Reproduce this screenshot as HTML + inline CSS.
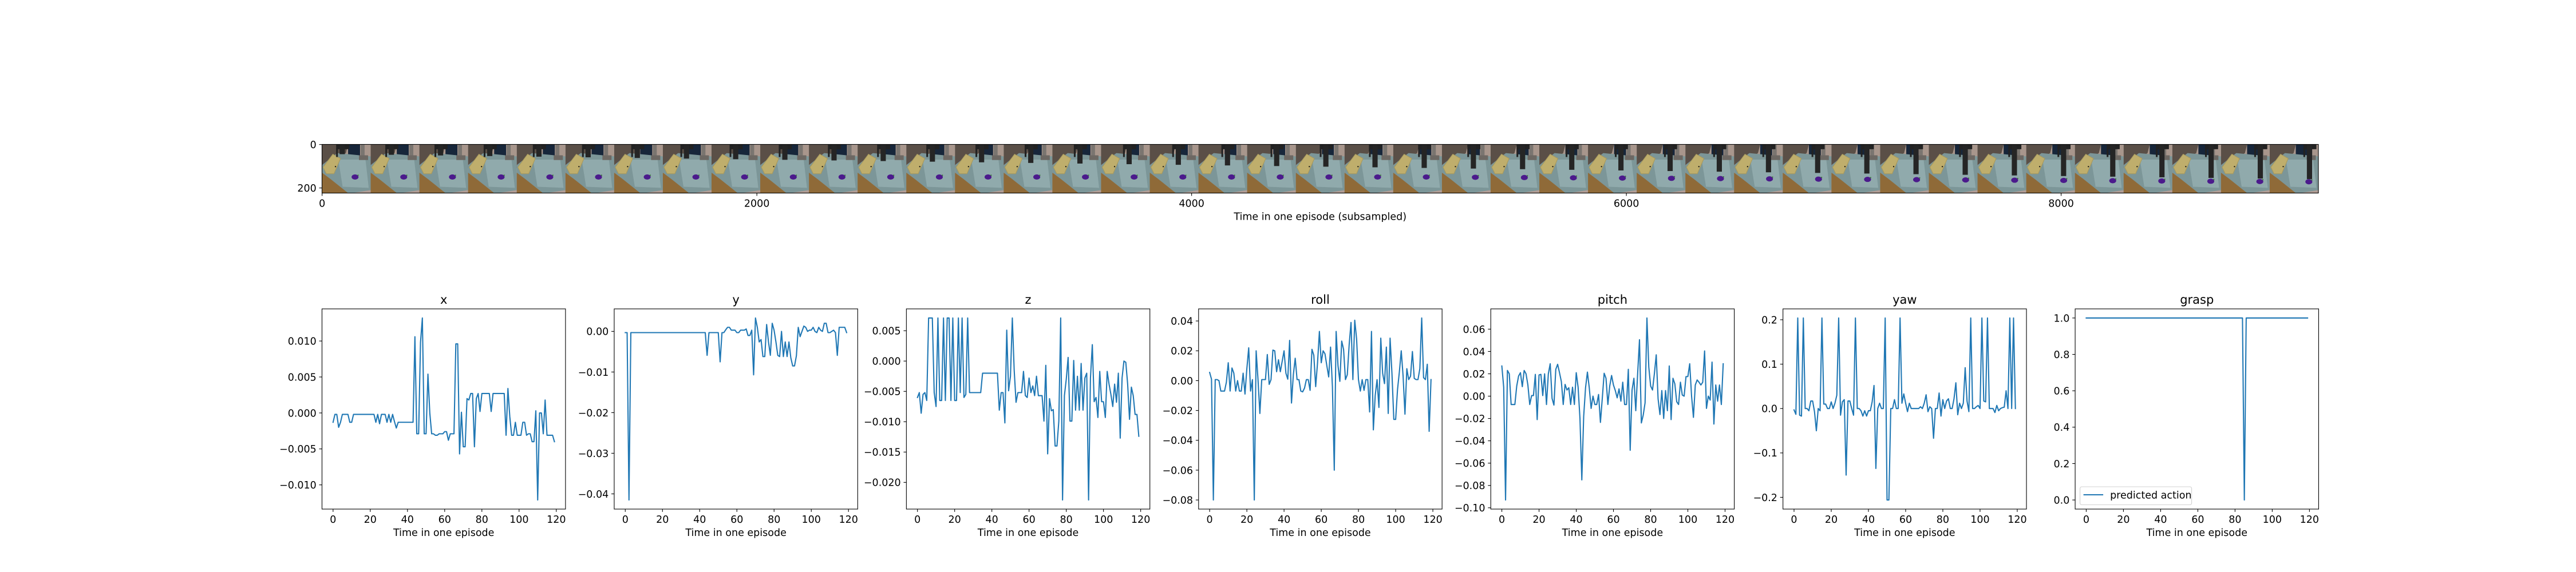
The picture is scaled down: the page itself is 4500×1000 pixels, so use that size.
<!DOCTYPE html>
<html><head><meta charset="utf-8"><title>Episode actions</title>
<style>
html,body{margin:0;padding:0;background:#fff;}
svg{display:block;font-family:"DejaVu Sans","Liberation Sans",sans-serif;}
</style></head>
<body>
<svg id="fig" width="4500" height="1000" viewBox="0 0 4500 1000" xmlns="http://www.w3.org/2000/svg">
<rect width="4500" height="1000" fill="#fff"/>
</svg>
<script>
// ---------- data ----------
const steps = Array.from({length:120},(_,i)=>i);
const xVals = [-1.3,-0.2,-0.2,-2.0,-1.3,-0.2,-0.2,-0.2,-0.2,-1.3,-1.3,-0.2,-0.2,-0.2,-0.2,-0.2,-0.2,-0.2,-0.2,-0.2,-0.2,-0.2,-0.2,-1.3,-0.2,-1.5,-0.2,-0.2,-0.2,-1.3,-0.2,-1.3,-0.2,-1.2,-2.1,-1.3,-1.3,-1.3,-1.3,-1.3,-1.3,-1.3,-1.3,-1.3,10.6,-2.9,-2.9,9.8,13.2,-2.9,-2.9,5.4,0.0,-2.9,-2.9,-3.1,-3.1,-2.9,-2.9,-2.9,-2.6,-2.6,-3.8,-2.9,-2.9,-2.9,9.6,9.6,-5.7,0.1,-4.7,-4.7,2.0,1.8,2.7,2.7,-4.7,2.0,2.7,0.2,2.7,2.7,2.7,2.7,2.7,0.2,2.7,2.7,2.7,2.7,2.7,2.7,2.7,-3.1,3.4,-0.5,-3.1,-3.1,-1.3,-3.1,-3.1,-3.1,-1.3,-1.3,-3.1,-2.9,-2.9,-4.0,-4.0,0.3,-12.1,0.0,0.0,-2.9,1.8,-3.1,-3.1,-3.1,-3.1,-4.0];
const yVals = [-0.3,-0.3,-41.5,-0.3,-0.3,-0.3,-0.3,-0.3,-0.3,-0.3,-0.3,-0.3,-0.3,-0.3,-0.3,-0.3,-0.3,-0.3,-0.3,-0.3,-0.3,-0.3,-0.3,-0.3,-0.3,-0.3,-0.3,-0.3,-0.3,-0.3,-0.3,-0.3,-0.3,-0.3,-0.3,-0.3,-0.3,-0.3,-0.3,-0.3,-0.3,-0.3,-0.3,-0.3,-5.9,-0.3,-0.3,-0.3,-0.3,-0.3,-0.3,-7.5,-0.3,-0.3,0.4,1.0,1.0,0.3,0.3,0.3,-0.3,-0.3,0.3,0.3,0.3,0.6,-1.0,-1.0,0.3,-10.7,3.3,1.0,-2.6,-2.0,-6.2,-6.2,1.7,-2.6,-5.9,2.0,0.3,-2.6,-5.9,-6.2,0.0,-6.2,-2.6,-6.2,-2.6,-6.5,-8.5,-8.5,-6.0,1.0,-1.3,0.0,1.3,1.0,0.0,0.3,0.3,1.0,0.0,-0.3,1.0,0.3,0.0,2.0,2.0,-0.3,-0.3,0.0,0.3,-0.3,-5.9,1.0,1.0,1.0,1.0,-0.3];
const zVals = [-6.0,-5.2,-8.6,-5.5,-5.2,-6.5,7.1,7.1,7.1,-5.2,-7.5,7.1,-6.5,-6.5,7.1,-6.5,7.1,7.1,-6.5,7.1,-6.5,-6.5,7.1,-5.2,7.1,-6.0,-5.5,7.1,-5.2,-5.2,-5.2,-5.2,-5.2,-5.2,-5.2,-2.0,-2.0,-2.0,-2.0,-2.0,-2.0,-2.0,-2.0,-2.0,-8.1,-5.2,-5.2,-10.2,5.1,-4.9,-2.5,7.1,-1.5,-6.8,-5.2,-5.2,-5.2,-1.7,-5.7,-6.0,-2.8,-5.2,-4.1,-5.7,-2.5,-5.7,-5.7,-5.7,-9.9,-0.7,-15.3,-6.2,-8.2,-8.0,-14.0,-14.0,-9.9,7.1,-22.9,-5.7,-3.0,0.6,-9.9,-9.9,0.1,-8.1,-2.5,-8.1,-0.4,-8.1,-2.8,-2.0,-22.9,-2.8,2.7,-6.7,-6.0,-9.3,-1.7,-6.7,-6.7,-9.3,-1.7,-3.8,-5.5,-7.5,-3.8,-6.8,-2.0,-12.7,-2.8,0.0,-0.2,-3.8,-9.6,-4.3,-5.7,-8.8,-8.8,-12.4];
const rollVals = [0.55,0.1,-8.0,0.07,0.07,0.0,-0.7,-0.7,-0.7,-0.1,1.2,-0.7,0.85,0.5,-0.7,0.0,-0.7,-0.7,0.5,-0.9,0.8,2.2,-0.7,0.07,-8.0,2.0,0.07,-2.2,0.07,0.07,0.07,1.75,-0.25,0.07,2.05,2.0,0.6,1.4,0.6,1.3,2.0,0.5,0.1,2.7,-1.5,0.4,1.5,0.07,0.07,-0.7,-0.75,-0.5,0.07,0.07,-0.65,2.1,1.7,-0.4,1.2,3.3,1.2,2.0,1.8,1.0,0.25,2.25,-0.4,-6.0,3.3,1.0,-0.05,2.65,2.1,0.07,0.4,2.4,3.9,0.07,4.05,2.8,0.07,-0.7,0.07,-0.65,0.07,0.07,-2.1,3.3,-3.3,-1.0,0.07,-1.8,2.85,0.5,-0.2,2.25,-2.2,2.85,0.5,-2.6,-2.6,-0.6,0.6,2.0,0.3,-2.25,0.8,0.07,0.3,1.95,0.15,0.07,0.07,0.8,4.2,0.2,0.07,1.1,-3.4,0.07];
const pitchVals = [2.7,0.8,-9.3,2.3,2.0,-0.75,-0.75,-0.75,0.9,1.8,2.1,0.85,2.3,2.0,1.0,-0.75,0.05,0.05,1.95,-2.1,1.9,1.95,0.05,2.0,-0.75,2.0,2.9,-0.2,-0.8,2.4,2.85,2.1,1.3,-0.75,1.05,0.55,0.75,-0.75,0.8,-0.75,2.1,0.8,-2.0,-7.5,-1.8,0.75,2.15,0.75,-1.1,0.0,-0.75,-0.75,0.15,-2.35,-0.2,2.05,1.6,-0.75,0.9,1.85,1.0,0.5,-0.15,0.65,-0.45,1.25,-0.75,-0.75,2.4,-4.85,0.55,1.6,-1.3,2.0,5.05,-2.4,-1.7,-0.6,7.0,2.6,0.9,0.55,2.0,3.7,-0.25,-1.65,0.5,-2.0,0.5,-1.3,2.7,-2.1,1.6,1.1,-0.5,-0.75,1.25,0.1,0.0,1.75,1.75,2.9,0.0,-1.9,1.0,1.45,1.25,1.0,1.25,4.05,-1.1,0.0,-0.35,3.05,-2.5,1.0,-0.45,1.0,-0.75,2.9];
const yawVals = [-0.3,-1.3,20.4,-1.5,-1.7,20.4,0,0,-0.5,1.7,1.7,-0.7,-5.0,0,-0.5,20.4,1.0,1.0,0,0,1.5,0,1.2,3.0,20.4,-1.5,1.5,2.0,-15.0,1.7,1.7,0,-1.5,20.4,0,0,-0.5,-1.7,-0.5,-1.7,-0.5,-0.5,1.5,5.2,-13.5,0,1.2,0,0,20.4,-20.6,-20.6,0,0,2.0,0,0,20.4,1.2,3.3,1.2,-0.7,1.2,0,0,0,0,0,0.4,0,1.2,3.1,-0.7,0.4,0,-6.7,0,0,3.5,-1.7,2.0,0,1.7,2.2,0,0,2.2,5.8,-1.4,1.2,0,1.2,9.2,1.7,-0.7,20.4,0,0,0.4,0.7,0,20.4,1.7,1.5,20.4,0,0,0,-0.9,0.7,-0.5,0,0.2,0.3,4.0,0,20.4,0,20.4,0];
const graspVals = steps.map(t => t===85 ? 0 : 1);
const panelTitles = ["x","y","z","roll","pitch","yaw","grasp"];
const xTickVals = [0,20,40,60,80,100,120];
const xTickLabels = ["0","20","40","60","80","100","120"];
const yTickVals = [
  [-0.010,-0.005,0,0.005,0.010],
  [-0.04,-0.03,-0.02,-0.01,0],
  [-0.020,-0.015,-0.010,-0.005,0,0.005],
  [-0.08,-0.06,-0.04,-0.02,0,0.02,0.04],
  [-0.10,-0.08,-0.06,-0.04,-0.02,0,0.02,0.04,0.06],
  [-0.2,-0.1,0,0.1,0.2],
  [0,0.2,0.4,0.6,0.8,1.0]
];
const yTickLabels = [
  ["−0.010","−0.005","0.000","0.005","0.010"],
  ["−0.04","−0.03","−0.02","−0.01","0.00"],
  ["−0.020","−0.015","−0.010","−0.005","0.000","0.005"],
  ["−0.08","−0.06","−0.04","−0.02","0.00","0.02","0.04"],
  ["−0.10","−0.08","−0.06","−0.04","−0.02","0.00","0.02","0.04","0.06"],
  ["−0.2","−0.1","0.0","0.1","0.2"],
  ["0.0","0.2","0.4","0.6","0.8","1.0"]
];
const seriesScale = [0.001,0.001,0.001,0.01,0.01,0.01,1];
const stripXTickVals = [0,2000,4000,6000,8000];
const stripXTickLabels = ["0","2000","4000","6000","8000"];
const stripYTickVals = [0,200];
const stripYTickLabels = ["0","200"];
const frameCount = 41;
const frameSize = 224;

// ---------- helpers ----------
const NS = "http://www.w3.org/2000/svg";
const fig = document.getElementById("fig");
function mk(tag, attrs, parent){
  const e = document.createElementNS(NS, tag);
  for (const k in attrs) e.setAttribute(k, attrs[k]);
  (parent||fig).appendChild(e);
  return e;
}
const BLUE = "#1f77b4";
const FS = 17.5;

// ---------- image strip ----------
const SL = 562.5, SR = 4050, SW = SR-SL;
const totalUnits = frameCount*frameSize;
const k = SW/totalUnits;
const ST = 295 - frameSize*k/2, SB = 295 + frameSize*k/2;
function sx(u){ return SL + (u+0.5)*k; }
function sy(u){ return ST + (u+0.5)*k; }

const strip = mk("g", {});


const clip = mk("clipPath", {id:"stripclip"}, strip);
mk("rect", {x:SL, y:ST, width:SW, height:SB-ST}, clip);
const frames = mk("g", {"clip-path":"url(#stripclip)"}, strip);
for (let i=0;i<frameCount;i++){
  const p = i/(frameCount-1);
  const g = mk("g", {transform:`translate(${SL+i*frameSize*k},${ST}) scale(${k})`}, frames);
  
  
  mk("rect",{x:0,y:0,width:224,height:224,fill:"#a8968c"},g);
  mk("polygon",{points:"0,0 120,0 110,40 0,110",fill:"#5a4f47"},g);
  mk("rect",{x:120,y:0,width:55,height:55,fill:"#17263a"},g);
  mk("polygon",{points:"0,95 70,40 224,55 224,224 0,224",fill:"#7c9698"},g);
  mk("polygon",{points:"75,70 200,70 215,200 95,195",fill:"#90aaac"},g);
  mk("polygon",{points:"0,130 0,224 120,224 40,160",fill:"#8f6a38"},g);
  mk("polygon",{points:"140,224 224,210 224,224",fill:"#b09c94"},g);
  mk("polygon",{points:"5,105 50,45 85,65 55,135 20,135",fill:"#bfae6c",stroke:"#a89a5e","stroke-width":3},g);
  mk("rect",{x:178,y:0,width:18,height:55,fill:"#7a7570"},g);
  mk("polygon",{points:"170,50 212,50 212,72 170,72",fill:"#6d6863"},g);
  const gx = 95 + p*90, gl = 45 + p*115;
  mk("rect",{x:gx-30,y:0,width:60,height:22,fill:"#222"},g);
  mk("rect",{x:gx-14,y:0,width:24,height:gl,fill:"#252525"},g);
  mk("rect",{x:gx-30,y:18,width:8,height:40,fill:"#222"},g);
  const ex = p<0.55 ? 152 : 152 + (p-0.55)/0.45*28, ey = p<0.55 ? 150 : 150 + (p-0.55)/0.45*22;
  mk("ellipse",{cx:ex,cy:ey,rx:16,ry:12,fill:"#4b1a8c"},g);
  mk("circle",{cx:ex+14,cy:ey-8,r:3,fill:"#3a7a3a"},g);
  mk("circle",{cx:62,cy:102,r:3,fill:"#111"},g);
}
mk("rect",{x:SL,y:ST,width:SW,height:SB-ST,fill:"none",stroke:"#000","stroke-width":1.1},strip);
stripXTickVals.forEach((v,j)=>{
  const x = sx(v);
  const t = mk("line",{x1:x,x2:x,y1:SB,y2:SB+4.9,stroke:"#000","stroke-width":1.1},strip);
  
  
  const l = mk("text",{x:x,y:SB+24,"font-size":FS,"text-anchor":"middle",fill:"#000"},strip);
  
  
  l.textContent = stripXTickLabels[j];
});
stripYTickVals.forEach((v,j)=>{
  const y = sy(v);
  mk("line",{x1:SL-4.9,x2:SL,y1:y,y2:y,stroke:"#000","stroke-width":1.1},strip);
  const l = mk("text",{x:SL-9.7,y:y+6.4,"font-size":FS,"text-anchor":"end",fill:"#000"},strip);
  
  
  l.textContent = stripYTickLabels[j];
});
const sxl = mk("text",{x:(SL+SR)/2,y:SB+47,"font-size":FS,"text-anchor":"middle",fill:"#000"},strip);


sxl.textContent = "Time in one episode (subsampled)";

// ---------- panels ----------
const allSeries = [xVals,yVals,zVals,rollVals,pitchVals,yawVals,graspVals];
const AW = 425.36, GAP = 85.07, AT = 540, AB = 890;
allSeries.forEach((vals, pi)=>{
  const L = 562.5 + pi*(AW+GAP), R = L+AW;
  const data = vals.map(v=>v*seriesScale[pi]);
  const n = steps.length;
  const xmin = steps[0], xmax = steps[n-1];
  const xlo = xmin-(xmax-xmin)*0.05, xhi = xmax+(xmax-xmin)*0.05;
  const dmin = Math.min(...data), dmax = Math.max(...data);
  const ylo = dmin-(dmax-dmin)*0.05, yhi = dmax+(dmax-dmin)*0.05;
  const X = v => L + (v-xlo)/(xhi-xlo)*AW;
  const Y = v => AB - (v-ylo)/(yhi-ylo)*(AB-AT);
  const g = mk("g",{});
  
  
  const title = mk("text",{x:(L+R)/2,y:AT-9,"font-size":21,"text-anchor":"middle",fill:"#000"},g);
  
  
  title.textContent = panelTitles[pi];
  const cid = "clip"+pi;
  const cp = mk("clipPath",{id:cid},g);
  mk("rect",{x:L,y:AT,width:AW,height:AB-AT},cp);
  const pts = data.map((v,i)=>X(steps[i]).toFixed(2)+","+Y(v).toFixed(2)).join(" ");
  const line = mk("polyline",{points:pts,fill:"none",stroke:BLUE,"stroke-width":2.08,"stroke-linejoin":"round","stroke-linecap":"square","clip-path":`url(#${cid})`},g);
  
  
  const frame = mk("rect",{x:L,y:AT,width:AW,height:AB-AT,fill:"none",stroke:"#000","stroke-width":1.1},g);
  
  
  xTickVals.forEach((v,j)=>{
    const x = X(v);
    mk("line",{x1:x,x2:x,y1:AB,y2:AB+4.9,stroke:"#000","stroke-width":1.1},g);
    const t = mk("text",{x:x,y:AB+24,"font-size":FS,"text-anchor":"middle",fill:"#000"},g);
    
    
    t.textContent = xTickLabels[j];
  });
  yTickVals[pi].forEach((v,j)=>{
    const y = Y(v);
    mk("line",{x1:L-4.9,x2:L,y1:y,y2:y,stroke:"#000","stroke-width":1.1},g);
    const t = mk("text",{x:L-9.7,y:y+6.4,"font-size":FS,"text-anchor":"end",fill:"#000"},g);
    
    
    t.textContent = yTickLabels[pi][j];
  });
  const xl = mk("text",{x:(L+R)/2,y:AB+47,"font-size":FS,"text-anchor":"middle",fill:"#000"},g);
  
  
  xl.textContent = "Time in one episode";
  if (pi===6){
    const lg = mk("g",{},g);
    
    
    mk("rect",{x:L+8.5,y:AB-39,width:195,height:31.5,rx:3,fill:"#fff","fill-opacity":0.8,stroke:"#d0d0d0","stroke-width":1.1},lg);
    const ll = mk("line",{x1:L+14.5,x2:L+49,y1:AB-25,y2:AB-25,stroke:BLUE,"stroke-width":2.08},lg);
    
    
    const lt = mk("text",{x:L+61,y:AB-18.5,"font-size":FS,fill:"#000"},lg);
    
    
    lt.textContent = "predicted action";
  }
});
</script>
</body></html>
